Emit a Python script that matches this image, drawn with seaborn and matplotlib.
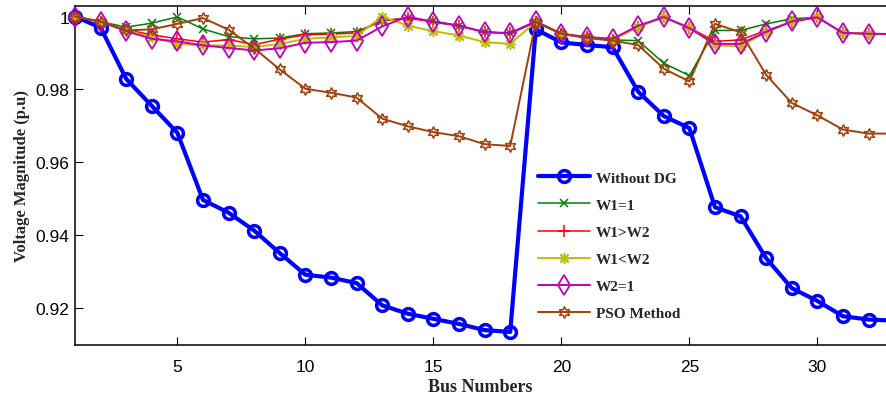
import numpy as np
import pandas as pd
import matplotlib
matplotlib.use("Agg")
import matplotlib.pyplot as plt
from matplotlib.ticker import FormatStrFormatter
import seaborn as sns

# Bus voltage profile (p.u.) of the 33-bus feeder for each case
buses = list(range(1, 34))

without_dg = [1.0000, 0.9970, 0.9829, 0.9755, 0.9681, 0.9497, 0.9462, 0.9413, 0.9351,
              0.9292, 0.9284, 0.9269, 0.9208, 0.9185, 0.9171, 0.9157, 0.9140, 0.9135,
              0.9965, 0.9929, 0.9922, 0.9916, 0.9794, 0.9727, 0.9694, 0.9477, 0.9452,
              0.9337, 0.9255, 0.9220, 0.9178, 0.9169, 0.9166]

w1_eq_1 = [1.0000, 0.9986, 0.9971, 0.9982, 0.9999, 0.9966, 0.9945, 0.9939, 0.9941,
           0.9953, 0.9955, 0.9959, 0.9988, 0.9996, 0.9988, 0.9975, 0.9958, 0.9954,
           0.9985, 0.9952, 0.9943, 0.9936, 0.9934, 0.9872, 0.9838, 0.9962, 0.9962,
           0.9980, 0.9994, 0.9998, 0.9955, 0.9953, 0.9952]

w1_gt_w2 = [1.0000, 0.9986, 0.9964, 0.9950, 0.9939, 0.9930, 0.9937, 0.9923, 0.9938,
            0.9950, 0.9952, 0.9955, 0.9990, 0.9995, 0.9986, 0.9975, 0.9957, 0.9954,
            0.9985, 0.9952, 0.9943, 0.9937, 0.9972, 0.9998, 0.9970, 0.9932, 0.9936,
            0.9962, 0.9985, 0.9998, 0.9955, 0.9953, 0.9952]

w1_lt_w2 = [1.0000, 0.9986, 0.9962, 0.9944, 0.9925, 0.9921, 0.9921, 0.9916, 0.9925,
            0.9939, 0.9943, 0.9947, 1.0000, 0.9975, 0.9960, 0.9948, 0.9930, 0.9925,
            0.9985, 0.9952, 0.9942, 0.9936, 0.9971, 0.9998, 0.9971, 0.9921, 0.9918,
            0.9958, 0.9987, 0.9998, 0.9955, 0.9953, 0.9952]

w2_eq_1 = [1.0000, 0.9986, 0.9960, 0.9939, 0.9932, 0.9921, 0.9914, 0.9907, 0.9913,
           0.9928, 0.9930, 0.9934, 0.9973, 1.0000, 0.9985, 0.9975, 0.9957, 0.9955,
           0.9987, 0.9953, 0.9944, 0.9939, 0.9975, 0.9999, 0.9968, 0.9925, 0.9925,
           0.9958, 0.9987, 0.9998, 0.9955, 0.9953, 0.9952]

pso = [1.0000, 0.9986, 0.9962, 0.9965, 0.9980, 0.9996, 0.9964, 0.9913, 0.9855,
       0.9802, 0.9791, 0.9778, 0.9720, 0.9699, 0.9683, 0.9672, 0.9650, 0.9645,
       0.9985, 0.9953, 0.9941, 0.9934, 0.9922, 0.9857, 0.9822, 0.9980, 0.9957,
       0.9840, 0.9763, 0.9729, 0.9690, 0.9679, 0.9679]

labels = ["Without DG", "W1=1", "W1>W2", "W1<W2", "W2=1", "PSO Method"]
series = [without_dg, w1_eq_1, w1_gt_w2, w1_lt_w2, w2_eq_1, pso]

styles = [
    dict(color="#0000FF", marker="o", lw=3.0, ms=8.5, mew=2.5),
    dict(color="#008000", marker="x", lw=1.1, ms=6, mew=1.1),
    dict(color="#FF0000", marker="+", lw=1.1, ms=9, mew=1.1),
    dict(color="#BFBF00", marker=(8, 2, 0), lw=1.4, ms=8, mew=1.1),
    dict(color="#BF00BF", marker="d", lw=1.4, ms=10, mew=1.3),
    dict(color="#A0410D", marker=(6, 1, 0), lw=1.4, ms=8.5, mew=1.1),
]

df = pd.DataFrame({"Bus": buses})
for name, vals in zip(labels, series):
    df[name] = vals

sns.set_theme(style="ticks")
plt.rcParams["font.family"] = ["Liberation Sans", "DejaVu Sans"]

fig = plt.figure(figsize=(8.86, 4.02), dpi=100)
ax = fig.add_axes([75 / 886, 1 - 345.7 / 402, 1 - 75 / 886, (345.7 - 7) / 402])

for name, st in zip(labels, styles):
    sns.lineplot(data=df, x="Bus", y=name, ax=ax, label=name,
                 color=st["color"], marker=st["marker"], linewidth=st["lw"],
                 markersize=st["ms"], markeredgewidth=st["mew"],
                 markeredgecolor=st["color"], markerfacecolor="none",
                 clip_on=False, zorder=3)

ax.set_xlim(1, 32.68)
ax.set_ylim(0.91, 1.0029)
ax.set_xticks([5, 10, 15, 20, 25, 30])
ax.set_yticks([0.92, 0.94, 0.96, 0.98, 1.0])
ax.yaxis.set_major_formatter(FormatStrFormatter("%g"))

for side in ["left", "bottom", "top"]:
    ax.spines[side].set_visible(True)
    ax.spines[side].set_linewidth(1.1)
    ax.spines[side].set_color("black")
ax.spines["right"].set_visible(False)

ax.tick_params(axis="both", direction="in", length=6, width=0.8, colors="black",
               labelsize=12.5, top=True, right=False)
ax.tick_params(axis="x", pad=10)
ax.tick_params(axis="y", pad=4)

serif_bold = dict(family=["Liberation Serif", "DejaVu Serif"], weight="bold")
ax.set_xlabel("Bus Numbers", fontsize=13, labelpad=3, **serif_bold)
ax.set_ylabel("Voltage Magnitude (p.u)", fontsize=12, labelpad=4, **serif_bold)

leg = ax.legend(loc="upper left", bbox_to_anchor=(538 / 886, 1 - 172 / 402),
                bbox_transform=fig.transFigure, frameon=False, borderpad=0,
                borderaxespad=0, handlelength=3.4, handletextpad=0.4,
                labelspacing=0.88, prop=dict(family=["Liberation Serif", "DejaVu Serif"],
                                             weight="bold", size=11))

fig.savefig("out.png", dpi=100, facecolor="white")
